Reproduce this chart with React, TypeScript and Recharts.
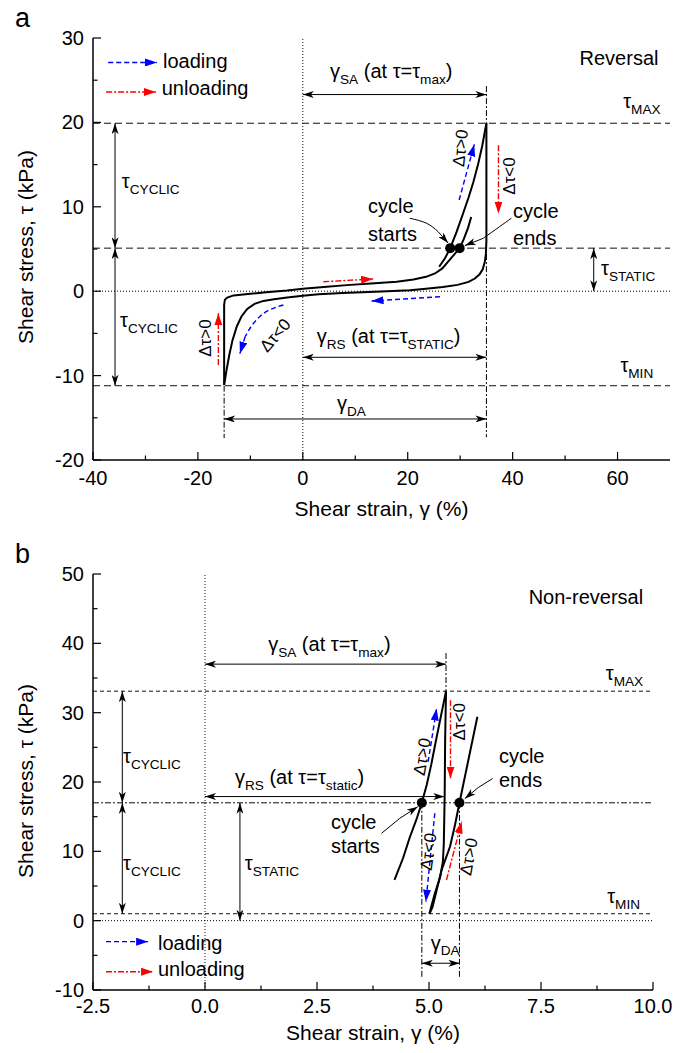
import React from 'react';
import { LineChart, Line, XAxis, YAxis, ReferenceLine, ReferenceDot } from 'recharts';

const FONT = '"Liberation Sans", Arial, sans-serif';

type P = { x: number; y: number };
const pts = (a: number[][]): P[] => a.map(([x, y]) => ({ x, y }));

// ---------- panel a : reversal ----------
const aXTicks = [-40, -30, -20, -10, 0, 10, 20, 30, 40, 50, 60];
const aXMajor = [-40, -20, 0, 20, 40, 60];
const aYTicks = [-20, -15, -10, -5, 0, 5, 10, 15, 20, 25, 30];
const aYMajor = [-20, -10, 0, 10, 20, 30];

const aTauMax = 19.9;
const aTauStatic = 5.1;
const aTauMin = -11.2;
const aPeak = 35.0;
const aTrough = -15.0;
const aStart = { x: 28.1, y: 5.1 };
const aEnd = { x: 29.9, y: 5.1 };

const aPrevLoad = pts([
  [26.0, 2.9], [27.1, 3.9], [28.1, 5.1], [29.3, 7.0], [30.6, 9.3], [31.6, 11.1],
  [32.5, 12.9], [33.4, 15.0], [34.2, 17.2], [35.0, 19.9],
]);
const aUnload = pts([
  [35.0, 19.9], [35.0, 12.0], [35.0, 6.0], [34.9, 4.4], [34.7, 3.5], [34.3, 2.6],
  [33.7, 2.0], [32.8, 1.5], [31.6, 1.1], [29.5, 0.75], [26.7, 0.5], [23.0, 0.25],
  [20.4, 0.1], [15.0, -0.05], [7.6, -0.2], [3.0, -0.35], [0.0, -0.55], [-3.0, -0.75],
  [-5.5, -0.95], [-7.5, -1.15], [-9.2, -1.5], [-10.6, -2.1], [-11.7, -3.0],
  [-12.6, -4.2], [-13.4, -5.8], [-14.0, -7.5], [-14.5, -9.2], [-15.0, -11.1],
]);
const aReload = pts([
  [-15.0, -11.1], [-15.0, -6.0], [-15.0, -1.6], [-14.85, -1.0], [-14.4, -0.75],
  [-13.2, -0.5], [-10.0, -0.3], [-7.0, -0.12], [-3.0, 0.08], [0.0, 0.28], [4.0, 0.5],
  [8.4, 0.72], [13.0, 0.92], [17.9, 1.12], [21.1, 1.38], [23.5, 1.7], [25.2, 2.1],
  [26.6, 2.7], [27.7, 3.5], [28.8, 4.3], [29.9, 5.1], [30.7, 6.2], [31.5, 7.5], [32.1, 8.8],
]);
const aStartPointer = pts([[20.4, 8.64], [23.6, 8.05], [25.8, 7.05], [27.7, 5.7]]);
const aEndPointer = pts([[39.75, 8.64], [37.5, 7.64], [34.4, 6.27], [30.9, 5.4]]);
const aBlueCurve = pts([[-3.7, -1.63], [-6.9, -2.4], [-9.4, -3.8], [-11.0, -5.4], [-12.0, -7.4]]);

// ---------- panel b : non-reversal ----------
const bXTicks = [-2.5, -1.25, 0, 1.25, 2.5, 3.75, 5, 6.25, 7.5, 8.75, 10];
const bXMajor = [-2.5, 0, 2.5, 5, 7.5, 10];
const bYTicks = [-10, -5, 0, 5, 10, 15, 20, 25, 30, 35, 40, 45, 50];
const bYMajor = [-10, 0, 10, 20, 30, 40, 50];

const bTauMax = 33.1;
const bTauStatic = 17.0;
const bTauMin = 1.0;
const bPeak = 5.38;
const bStart = { x: 4.84, y: 17.0 };
const bEnd = { x: 5.68, y: 17.0 };

const bPrevLoad = pts([
  [4.23, 5.9], [4.42, 9.0], [4.57, 12.0], [4.72, 14.6], [4.84, 17.0], [4.95, 19.6],
  [5.05, 22.5], [5.15, 25.8], [5.26, 29.3], [5.38, 33.1],
]);
const bUnload = pts([
  [5.38, 33.1], [5.36, 26.0], [5.35, 18.0], [5.33, 11.0], [5.31, 8.5], [5.25, 6.3],
  [5.13, 3.9], [5.04, 1.8], [5.01, 1.0],
]);
const bReload = pts([
  [5.01, 1.0], [5.08, 2.0], [5.17, 4.4], [5.28, 7.3], [5.47, 10.7], [5.58, 13.8],
  [5.68, 17.0], [5.88, 23.2], [6.08, 29.4],
]);
const bStartPointer = pts([[3.94, 12.6], [4.35, 14.77], [4.75, 16.44]]);
const bEndPointer = pts([[6.42, 20.5], [6.1, 19.2], [5.8, 17.6]]);

// ---------- helpers ----------
const BLUE = '#0000ff';
const RED = '#ff0000';
const DASH = '5 3';
const DASHDOT = '6 2 2 2';
const GUIDE = '#111';

const near = (list: number[], v: number) => list.some((m) => Math.abs(m - v) < 1e-9);

const tickBottom = (majors: number[], fmt: (v: number) => string, dy: number) => (p: any) => {
  const v = p.payload.value;
  const major = near(majors, v);
  return (
    <g>
      <line x1={p.x} x2={p.x} y1={p.y} y2={p.y - (major ? 8 : 4.5)} stroke="#000" strokeWidth={1.2} />
      {major && (
        <text x={p.x} y={p.y + dy} textAnchor="middle" fontSize={20} fontFamily={FONT} fill="#000">
          {fmt(v)}
        </text>
      )}
    </g>
  );
};
const tickTop = (majors: number[]) => (p: any) => (
  <line x1={p.x} x2={p.x} y1={p.y} y2={p.y + (near(majors, p.payload.value) ? 8 : 4.5)} stroke="#000" strokeWidth={1.2} />
);
const tickLeft = (majors: number[]) => (p: any) => {
  const v = p.payload.value;
  const major = near(majors, v);
  return (
    <g>
      <line x1={p.x} x2={p.x + (major ? 8 : 4.5)} y1={p.y} y2={p.y} stroke="#000" strokeWidth={1.2} />
      {major && (
        <text x={p.x - 9} y={p.y + 7} textAnchor="end" fontSize={20} fontFamily={FONT} fill="#000">
          {String(v)}
        </text>
      )}
    </g>
  );
};
const tickRight = (majors: number[]) => (p: any) => (
  <line x1={p.x} x2={p.x - (near(majors, p.payload.value) ? 8 : 4.5)} y1={p.y} y2={p.y} stroke="#000" strokeWidth={1.2} />
);

const frame = { stroke: '#000', strokeWidth: 1.5 };

const axes = (
  xd: number[], xt: number[], xm: number[], xf: (v: number) => string,
  yd: number[], yt: number[], ym: number[], xdy: number,
) => [
  <XAxis key="xb" xAxisId={0} type="number" dataKey="x" domain={xd} ticks={xt} interval={0} allowDataOverflow
    height={40} tickSize={0} tickMargin={0} tickLine={false} axisLine={frame} tick={tickBottom(xm, xf, xdy)} />,
  <XAxis key="xt" xAxisId="t" orientation="top" type="number" dataKey="x" domain={xd} ticks={xt} interval={0}
    allowDataOverflow height={0} tickSize={0} tickMargin={0} tickLine={false} axisLine={frame} tick={tickTop(xm)} />,
  <YAxis key="yl" yAxisId={0} type="number" domain={yd} ticks={yt} interval={0} allowDataOverflow
    width={60} tickSize={0} tickMargin={0} tickLine={false} axisLine={frame} tick={tickLeft(ym)} />,
  <YAxis key="yr" yAxisId="r" orientation="right" type="number" domain={yd} ticks={yt} interval={0}
    allowDataOverflow width={0} tickSize={0} tickMargin={0} tickLine={false} axisLine={frame} tick={tickRight(ym)} />,
];

// text with _{sub} parts
const rich = (s: string, size: number) =>
  s.split(/_\{([^}]*)\}/).map((t, i) =>
    i % 2 === 1 ? (
      <tspan key={i} dy={size * 0.28} fontSize={size * 0.68}>{t}</tspan>
    ) : (
      <tspan key={i} dy={i === 0 ? 0 : -size * 0.28}>{t}</tspan>
    ),
  );

type NoteOpt = { anchor?: 'start' | 'middle' | 'end'; size?: number; rot?: number };
const note = (key: string, x: number, y: number, s: string, o: NoteOpt = {}) => {
  const size = o.size ?? 20;
  return (
    <ReferenceDot key={key} x={x} y={y} r={0} ifOverflow="visible"
      shape={(p: any) => (
        <text x={p.cx} y={p.cy} textAnchor={o.rot ? 'middle' : o.anchor ?? 'start'} fontSize={size}
          fontFamily={FONT} fill="#000" dominantBaseline={o.rot ? 'central' : undefined}
          transform={o.rot ? `rotate(${o.rot} ${p.cx} ${p.cy})` : undefined}>
          {rich(s, size)}
        </text>
      )} />
  );
};

type LineOpt = { color?: string; dash?: string; width?: number; start?: string; end?: string };
const seg = (key: string, a: P, b: P, o: LineOpt = {}) => (
  <ReferenceLine key={key} segment={[a, b]} ifOverflow="visible"
    shape={(p: any) => (
      <line x1={p.x1} y1={p.y1} x2={p.x2} y2={p.y2} stroke={o.color ?? '#000'} strokeWidth={o.width ?? 1}
        strokeDasharray={o.dash} fill="none"
        markerStart={o.start ? `url(#${o.start})` : undefined}
        markerEnd={o.end ? `url(#${o.end})` : undefined} />
    )} />
);
const dirArrow = (key: string, a: P, b: P, blue: boolean) =>
  seg(key, a, b, { color: blue ? BLUE : RED, dash: blue ? DASH : DASHDOT, width: 1.4, end: blue ? 'ahB' : 'ahR' });

// curved pointer: smooth path + last piece carrying the head
const pointer = (key: string, p: P[], o: LineOpt = {}) => [
  <Line key={key + 'c'} data={p.slice(0, -1)} dataKey="y" type="natural" stroke={o.color ?? '#000'}
    strokeWidth={o.width ?? 1} strokeDasharray={o.dash} dot={false} activeDot={false} isAnimationActive={false} />,
  seg(key + 'h', p[p.length - 2], p[p.length - 1], o),
];

const curve = (key: string, data: P[]) => (
  <Line key={key} data={data} dataKey="y" type="linear" stroke="#000" strokeWidth={2} dot={false}
    activeDot={false} isAnimationActive={false} />
);

const hline = (key: string, y: number, dash: string, color = GUIDE) => (
  <ReferenceLine key={key} y={y} stroke={color} strokeWidth={1} strokeDasharray={dash} />
);
const vline = (key: string, x: number, dash: string) => (
  <ReferenceLine key={key} x={x} stroke={GUIDE} strokeWidth={1} strokeDasharray={dash} />
);
const dot = (key: string, p: P) => <ReferenceDot key={key} x={p.x} y={p.y} r={5} fill="#000" stroke="none" />;

const both = { start: 'ahK', end: 'ahK' };

function PanelA() {
  return (
    <LineChart width={686} height={530} margin={{ top: 38, right: 16, bottom: 30, left: 33 }}>
      {axes([-40, 70], aXTicks, aXMajor, (v) => String(v), [-20, 30], aYTicks, aYMajor, 25)}
      {hline('h0', 0, '1 2', '#000')}
      {vline('v0', 0, '1 2')}
      {hline('hmax', aTauMax, '7 4')}
      {hline('hst', aTauStatic, '7 4')}
      {hline('hmin', aTauMin, '7 4')}
      {seg('vpk', { x: aPeak, y: 24.3 }, { x: aPeak, y: -17.3 }, { dash: DASHDOT })}
      {seg('vtr', { x: aTrough, y: aTauMin }, { x: aTrough, y: -17.4 }, { dash: DASHDOT })}

      {seg('gsa', { x: 0, y: 23.3 }, { x: aPeak, y: 23.3 }, both)}
      {seg('grs', { x: 0, y: -7.83 }, { x: aPeak, y: -7.83 }, both)}
      {seg('gda', { x: aTrough, y: -15.14 }, { x: aPeak, y: -15.14 }, both)}
      {seg('tc1', { x: -35.8, y: aTauMax }, { x: -35.8, y: aTauStatic }, both)}
      {seg('tc2', { x: -35.8, y: aTauStatic }, { x: -35.8, y: aTauMin }, both)}
      {seg('tst', { x: 55.46, y: aTauStatic }, { x: 55.46, y: 0 }, both)}

      {curve('c1', aPrevLoad)}
      {curve('c2', aUnload)}
      {curve('c3', aReload)}
      {dot('d1', aStart)}
      {dot('d2', aEnd)}
      {pointer('ps', aStartPointer, { end: 'ahK' })}
      {pointer('pe', aEndPointer, { end: 'ahK' })}

      {dirArrow('a1', { x: 29.8, y: 10.8 }, { x: 32.7, y: 17.4 }, true)}
      {dirArrow('a2', { x: 37.3, y: 17.3 }, { x: 37.3, y: 9.2 }, false)}
      {dirArrow('a3', { x: 3.9, y: 1.12 }, { x: 13.4, y: 1.45 }, false)}
      {dirArrow('a4', { x: 26.15, y: -0.65 }, { x: 13.1, y: -1.16 }, true)}
      {pointer('a5', aBlueCurve, { color: BLUE, dash: DASH, width: 1.4, end: 'ahB' })}
      {dirArrow('a6', { x: -16.1, y: -8.74 }, { x: -16.1, y: -2.62 }, false)}

      {dirArrow('lg1', { x: -37.1, y: 27.1 }, { x: -27.8, y: 27.1 }, true)}
      {dirArrow('lg2', { x: -37.5, y: 23.6 }, { x: -28.0, y: 23.6 }, false)}
      {note('lt1', -26.65, 26.45, 'loading')}
      {note('lt2', -26.9, 23.25, 'unloading')}

      {note('n1', 67.8, 26.8, 'Reversal', { anchor: 'end' })}
      {note('n2', 68.2, 21.7, 'τ_{MAX}', { anchor: 'end' })}
      {note('n3', 66.8, -9.57, 'τ_{MIN}', { anchor: 'end' })}
      {note('n4', 56.85, 1.92, 'τ_{STATIC}')}
      {note('n5', -34.5, 12.2, 'τ_{CYCLIC}')}
      {note('n6', -34.85, -4.24, 'τ_{CYCLIC}')}
      {note('n7', 5.19, 25.26, 'γ_{SA} (at τ=τ_{max})')}
      {note('n8', 2.65, -6.14, 'γ_{RS} (at τ=τ_{STATIC})')}
      {note('n9', 6.5, -14.08, 'γ_{DA}')}
      {note('n10', 12.43, 9.27, 'cycle')}
      {note('n11', 12.43, 5.95, 'starts')}
      {note('n12', 40.08, 8.67, 'cycle')}
      {note('n13', 40.08, 5.47, 'ends')}
      {note('r1', 29.97, 16.97, 'Δτ>0', { size: 17, rot: -84 })}
      {note('r2', 39.3, 13.65, 'Δτ<0', { size: 17, rot: -90 })}
      {note('r3', -18.65, -5.55, 'Δτ>0', { size: 17, rot: -90 })}
      {note('r4', -5.3, -5.2, 'Δτ<0', { size: 17, rot: -49 })}
    </LineChart>
  );
}

function PanelB() {
  return (
    <LineChart width={686} height={517} margin={{ top: 38, right: 33, bottom: 23, left: 33 }}>
      {axes([-2.5, 10], bXTicks, bXMajor, (v) => v.toFixed(1), [-10, 50], bYTicks, bYMajor, 23)}
      {hline('h0', 0, '1 2', '#000')}
      {vline('v0', 0, '1 2')}
      {hline('hmax', bTauMax, '4 3')}
      {hline('hst', bTauStatic, DASHDOT)}
      {hline('hmin', bTauMin, '4 3')}
      {seg('vpk', { x: bPeak, y: 38.6 }, { x: bPeak, y: bTauMax }, { dash: DASHDOT })}
      {seg('vs', { x: bStart.x, y: bStart.y }, { x: bStart.x, y: -8.1 }, { dash: DASHDOT })}
      {seg('ve', { x: bEnd.x, y: bEnd.y }, { x: bEnd.x, y: -8.1 }, { dash: DASHDOT })}

      {seg('gsa', { x: 0, y: 37.0 }, { x: bPeak, y: 37.0 }, both)}
      {seg('grs', { x: 0, y: 17.9 }, { x: 5.34, y: 17.9 }, both)}
      {seg('gda', { x: bStart.x, y: -6.14 }, { x: bEnd.x, y: -6.14 }, both)}
      {seg('tc1', { x: -1.846, y: bTauMax }, { x: -1.846, y: bTauStatic }, both)}
      {seg('tc2', { x: -1.846, y: bTauStatic }, { x: -1.846, y: bTauMin }, both)}
      {seg('tst', { x: 0.78, y: bTauStatic }, { x: 0.78, y: 0 }, both)}

      {curve('c1', bPrevLoad)}
      {curve('c2', bUnload)}
      {curve('c3', bReload)}
      {dot('d1', bStart)}
      {dot('d2', bEnd)}
      {pointer('ps', bStartPointer, { end: 'ahK' })}
      {pointer('pe', bEndPointer, { end: 'ahK' })}

      {dirArrow('a1', { x: 4.98, y: 22.9 }, { x: 5.17, y: 30.6 }, true)}
      {dirArrow('a2', { x: 5.48, y: 31.8 }, { x: 5.48, y: 20.5 }, false)}
      {dirArrow('a3', { x: 5.13, y: 15.5 }, { x: 4.93, y: 2.74 }, true)}
      {dirArrow('a4', { x: 5.39, y: 5.87 }, { x: 5.73, y: 14.3 }, false)}

      {dirArrow('lg1', { x: -2.21, y: -3.03 }, { x: -1.27, y: -3.03 }, true)}
      {dirArrow('lg2', { x: -2.21, y: -7.36 }, { x: -1.16, y: -7.36 }, false)}
      {note('lt1', -1.05, -4.2, 'loading')}
      {note('lt2', -1.05, -7.98, 'unloading')}

      {note('n1', 9.78, 45.68, 'Non-reversal', { anchor: 'end' })}
      {note('n2', 9.78, 34.7, 'τ_{MAX}', { anchor: 'end' })}
      {note('n3', 9.71, 2.55, 'τ_{MIN}', { anchor: 'end' })}
      {note('n4', 0.89, 7.31, 'τ_{STATIC}')}
      {note('n5', -1.83, 22.75, 'τ_{CYCLIC}')}
      {note('n6', -1.83, 7.31, 'τ_{CYCLIC}')}
      {note('n7', 1.41, 38.9, 'γ_{SA} (at τ=τ_{max})')}
      {note('n8', 0.67, 19.7, 'γ_{RS} (at τ=τ_{static})')}
      {note('n9', 5.04, -4.2, 'γ_{DA}')}
      {note('n10', 2.81, 13.2, 'cycle')}
      {note('n11', 2.81, 9.76, 'starts')}
      {note('n12', 6.56, 22.75, 'cycle')}
      {note('n13', 6.56, 19.3, 'ends')}
      {note('r1', 4.84, 23.65, 'Δτ>0', { size: 17, rot: -80 })}
      {note('r2', 5.68, 28.7, 'Δτ<0', { size: 17, rot: -90 })}
      {note('r3', 4.98, 9.95, 'Δτ<0', { size: 17, rot: -82 })}
      {note('r4', 5.88, 9.23, 'Δτ>0', { size: 17, rot: -80 })}
    </LineChart>
  );
}

const title = { fontSize: 21, fontFamily: FONT, fill: '#000' } as const;

export default function App() {
  return (
    <div style={{ position: 'absolute', left: 0, top: 0, width: 686, height: 1053, background: '#fff' }}>
      <svg width={0} height={0} style={{ position: 'absolute' }}>
        <defs>
          <marker id="ahK" viewBox="0 0 11 7" refX={11} refY={3.5} markerWidth={11} markerHeight={7}
            markerUnits="userSpaceOnUse" orient="auto-start-reverse">
            <path d="M0,0 L11,3.5 L0,7 L3,3.5 z" fill="#000" />
          </marker>
          <marker id="ahB" viewBox="0 0 12 8" refX={12} refY={4} markerWidth={12} markerHeight={8}
            markerUnits="userSpaceOnUse" orient="auto-start-reverse">
            <path d="M0,0 L12,4 L0,8 z" fill={BLUE} />
          </marker>
          <marker id="ahR" viewBox="0 0 12 8" refX={12} refY={4} markerWidth={12} markerHeight={8}
            markerUnits="userSpaceOnUse" orient="auto-start-reverse">
            <path d="M0,0 L12,4 L0,8 z" fill={RED} />
          </marker>
        </defs>
      </svg>
      <div style={{ position: 'absolute', left: 0, top: 0 }}>
        <PanelA />
      </div>
      <div style={{ position: 'absolute', left: 0, top: 536 }}>
        <PanelB />
      </div>
      <svg width={686} height={1053} style={{ position: 'absolute', left: 0, top: 0, pointerEvents: 'none' }}>
        <text x={15} y={27} fontSize={27} fontFamily={FONT}>a</text>
        <text x={15} y={563} fontSize={27} fontFamily={FONT}>b</text>
        <text x={381.5} y={516} textAnchor="middle" {...title}>Shear strain, γ (%)</text>
        <text x={33} y={247} textAnchor="middle" transform="rotate(-90 33 247)" {...title}>Shear stress, τ (kPa)</text>
        <text x={373} y={1040} textAnchor="middle" {...title}>Shear strain, γ (%)</text>
        <text x={33} y={781} textAnchor="middle" transform="rotate(-90 33 781)" {...title}>Shear stress, τ (kPa)</text>
      </svg>
    </div>
  );
}
